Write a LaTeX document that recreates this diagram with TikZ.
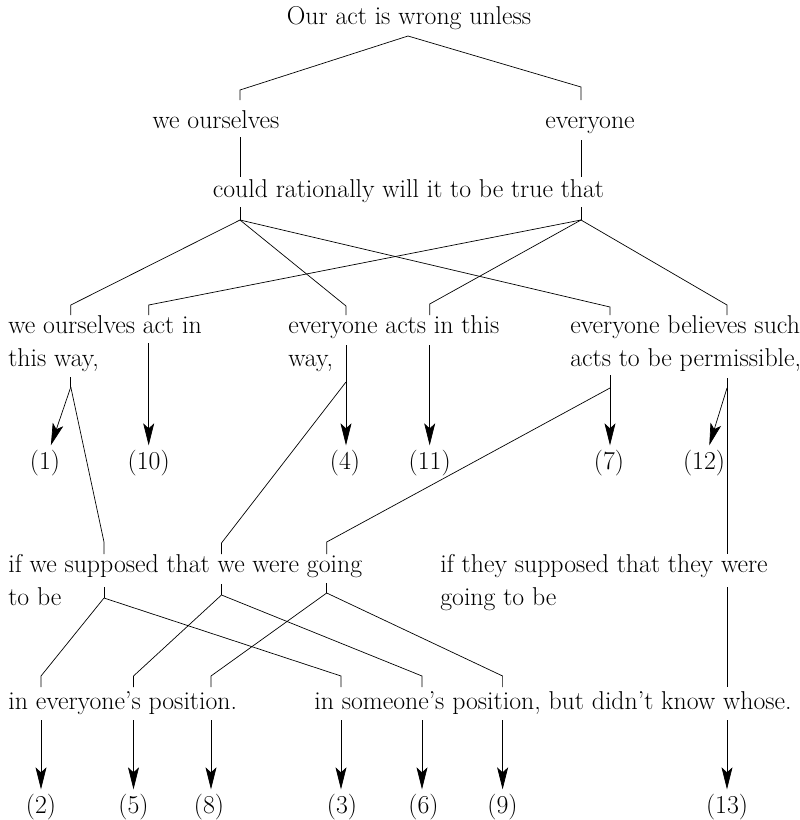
\documentclass[tikz,border=0pt]{standalone}
\usepackage{fontspec}
\usetikzlibrary{arrows.meta,positioning,calc}

\begin{document}
\begin{tikzpicture}[x=1pt, y=-1pt, line width=0.7pt,
                >={Stealth[length=22pt,width=11pt,inset=5pt]},
                txt/.style={inner sep=0pt, align=left, font=\fontsize{25.8}{33}\selectfont},
                num/.style={inner sep=4pt, font=\fontsize{25.8}{33}\selectfont}]
                \useasboundingbox (0,0) rectangle (800,820);
                % texts (two-line nodes sit on the baseline of their last line)
                \node[txt,anchor=base] (wrong) at (409,24) {Our act is wrong unless};
                \node[txt,anchor=base] (we) at (216,128) {we ourselves};
                \node[txt,anchor=base] (every) at (590,128) {everyone};
                \node[txt,anchor=base] (could) at (408.5,197) {could rationally will it to be true that};
                \node[txt,anchor=base west] (weact) at (8,366) {we ourselves act in\\this way,};
                \node[txt,anchor=base west] (evact) at (288,366) {everyone acts in this\\way,};
                \node[txt,anchor=base west] (belief) at (570,366) {everyone believes such\\acts to be permissible,};
                \node[txt,anchor=base west] (wesup) at (8,605) {if we supposed that we were going\\to be};
                \node[txt,anchor=base west] (theysup) at (440,605) {if they supposed that they were\\going to be};
                \node[txt,anchor=base west] (evpos) at (8,709) {in everyone's position.};
                \node[txt,anchor=base west] (sompos) at (314,709) {in someone's position, but didn't know whose.};
                % numbers
                \node[num,anchor=base] (n1) at (45,469) {(1)};
                \node[num,anchor=base] (n10) at (148.7,469) {(10)};
                \node[num,anchor=base] (n4) at (345,469) {(4)};
                \node[num,anchor=base] (n11) at (429.7,469) {(11)};
                \node[num,anchor=base] (n7) at (609,469) {(7)};
                \node[num,anchor=base] (n12) at (704,469) {(12)};
                \node[num,anchor=base] (n2) at (41,813) {(2)};
                \node[num,anchor=base] (n5) at (133.5,813) {(5)};
                \node[num,anchor=base] (n8) at (209,813) {(8)};
                \node[num,anchor=base] (n3) at (342,813) {(3)};
                \node[num,anchor=base] (n6) at (423.5,813) {(6)};
                \node[num,anchor=base] (n9) at (502.5,813) {(9)};
                \node[num,anchor=base] (n13) at (727,813) {(13)};
                % junctions
                \coordinate (top) at (408,36);
                \coordinate (we-t) at (240,90);
                \coordinate (ev-t) at (581,87);
                \coordinate (we-b) at (240,137);
                \coordinate (ev-b) at (581,140);
                \coordinate (cw) at (240,207);
                \coordinate (ce) at (581,207);
                \coordinate (wefork) at (240,220);
                \coordinate (evfork) at (581,220);
                \coordinate (wa-l) at (70.8,305);
                \coordinate (wa-r) at (148.7,305);
                \coordinate (ea-l) at (346,306);
                \coordinate (ea-r) at (429.7,304);
                \coordinate (bl-l) at (610,307);
                \coordinate (bl-r) at (727,305);
                \coordinate (wa-s) at (70.8,377);
                \coordinate (wa-j) at (70.8,387);
                \coordinate (wa-b) at (148.7,343);
                \coordinate (ea-b) at (346,345);
                \coordinate (ea-j) at (346,382);
                \coordinate (er-b) at (429.7,345);
                \coordinate (bl-b) at (610,375);
                \coordinate (bl-j) at (610,388);
                \coordinate (br-b) at (727,378);
                \coordinate (br-j) at (727,388);
                \coordinate (sw-a) at (104,542);
                \coordinate (sw-b) at (221.5,543);
                \coordinate (sw-c) at (326.7,542);
                \coordinate (st-t) at (727,554);
                \coordinate (sp-a) at (104,587);
                \coordinate (sj-a) at (104,598);
                \coordinate (sp-b) at (221.5,584);
                \coordinate (sj-b) at (221.5,595);
                \coordinate (sp-c) at (326.7,583);
                \coordinate (sj-c) at (326.7,593);
                \coordinate (st-b) at (727,587);
                \coordinate (ep-2) at (41,676);
                \coordinate (ep-5) at (133.5,676);
                \coordinate (ep-8) at (211,676);
                \coordinate (sp-3) at (341,676);
                \coordinate (sp-6) at (422,676);
                \coordinate (sp-9) at (502.6,676);
                \coordinate (wh-t) at (727,687);
                \coordinate (d2) at (41,720);
                \coordinate (d5) at (133.5,720);
                \coordinate (d8) at (211,720);
                \coordinate (d3) at (341,720);
                \coordinate (d6) at (422,720);
                \coordinate (d9) at (502.6,720);
                \coordinate (d13) at (727,720);
                % top of the tree
                \draw (top) -- (we-t) -- ++(0,10);
                \draw (top) -- (ev-t) -- ++(0,13);
                \draw (we-b) -- ++(0,40);
                \draw (ev-b) -- ++(0,37);
                \draw (cw) -- (wefork);
                \draw (ce) -- (evfork);
                \draw (wefork) -- (wa-l) -- ++(0,10);
                \draw (evfork) -- (wa-r) -- ++(0,10);
                \draw (wefork) -- (ea-l) -- ++(0,9);
                \draw (evfork) -- (ea-r) -- ++(0,11);
                \draw (wefork) -- (bl-l) -- ++(0,8);
                \draw (evfork) -- (bl-r) -- ++(0,10);
                % first row down
                \draw (wa-s) -- (wa-j);
                \draw[->] (wa-j) -- (n1);
                \draw (wa-j) -- (sw-a) -- ++(0,12);
                \draw[->] (wa-b) -- (wa-b |- n10.north);
                \draw[->] (ea-b) -- (ea-b |- n4.north);
                \draw (ea-j) -- (sw-b) -- ++(0,11);
                \draw[->] (er-b) -- (er-b |- n11.north);
                \draw[->] (bl-b) -- (bl-b |- n7.north);
                \draw (bl-j) -- (sw-c) -- ++(0,12);
                \draw (br-b) -- (br-j);
                \draw[->] (br-j) -- (n12);
                \draw (br-j) -- (st-t);
                % second row down
                \draw (sp-a) -- (sj-a);
                \draw (sj-a) -- (ep-2) -- ++(0,11);
                \draw (sj-a) -- (sp-3) -- ++(0,11);
                \draw (sp-b) -- (sj-b);
                \draw (sj-b) -- (ep-5) -- ++(0,11);
                \draw (sj-b) -- (sp-6) -- ++(0,11);
                \draw (sp-c) -- (sj-c);
                \draw (sj-c) -- (ep-8) -- ++(0,11);
                \draw (sj-c) -- (sp-9) -- ++(0,11);
                \draw (st-b) -- (wh-t);
                % last row down
                \draw[->] (d2) -- (d2 |- n2.north);
                \draw[->] (d5) -- (d5 |- n5.north);
                \draw[->] (d8) -- (d8 |- n8.north);
                \draw[->] (d3) -- (d3 |- n3.north);
                \draw[->] (d6) -- (d6 |- n6.north);
                \draw[->] (d9) -- (d9 |- n9.north);
                \draw[->] (d13) -- (d13 |- n13.north);
\end{tikzpicture}
\end{document}
